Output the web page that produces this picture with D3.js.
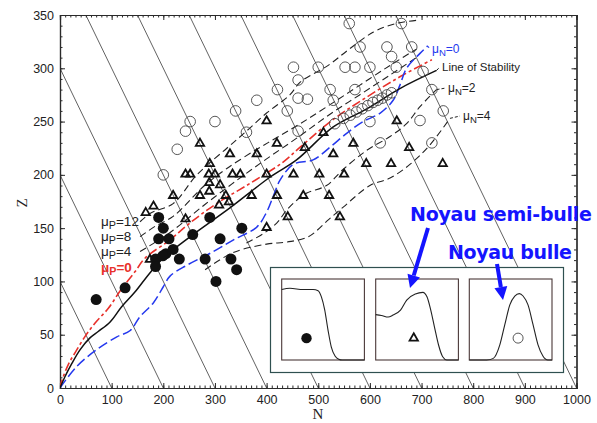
<!DOCTYPE html>
<html><head><meta charset="utf-8">
<script src="https://cdn.jsdelivr.net/npm/d3@7"></script>
<style>body{margin:0;background:#fff}svg{display:block}</style>
</head><body>
<svg id="c" width="597" height="423"></svg>
<script>
// ---------- DATA ----------
const xTicks = [0,100,200,300,400,500,600,700,800,900,1000];
const yTicks = [0,50,100,150,200,250,300,350];
const isobars = [100,200,300,400,500,600,700,800,900,1000]; // lines of constant A = N+Z
const stability = [[0,0],[10,11],[23,23],[39,36],[58,47],[74,53],[97,62],[119,76],[145,90],[174,108],[200,122],[252,142],[329,169],[407,198],[458,214],[529,245],[594,262],[658,281],[729,298]];
const muP0 = [[0,0],[3,6],[16,22],[29,33],[48,48],[68,61],[94,75],[119,93],[145,109],[165,122],[213,139],[252,155],[303,173],[368,192],[432,212],[465,226],[529,252],[594,273],[658,292],[720,308]];
const muN0 = [[0,0],[32,20],[71,36],[110,48],[136,54],[155,67],[181,80],[200,95],[213,105],[245,115],[297,128],[336,139],[381,151],[400,165],[413,180],[426,195],[452,210],[490,214],[523,226],[555,239],[587,250],[620,258],[645,270],[658,284],[671,300],[697,314],[712,321]];
const muP4 = [[155,128],[185,137],[219,148],[280,172],[340,194],[400,215],[460,235],[520,256],[580,275],[640,294],[690,310]];
const muP8 = [[155,142],[185,152],[219,161],[280,190],[323,206],[381,224],[420,235],[465,248],[520,265],[580,284],[640,303],[690,318]];
const muP12 = [[155,156],[175,164],[219,173],[265,200],[323,225],[361,241],[400,258],[445,275],[465,287],[520,303],[560,318],[607,334],[650,342],[690,345]];
const muN2 = [[361,136],[394,145],[420,155],[439,167],[458,176],[478,183],[516,190],[548,205],[594,223],[639,236],[671,248],[697,264],[729,280]];
const muN4 = [[281,111],[335,127],[400,135],[440,137],[481,142],[520,158],[549,170],[600,190],[639,197],[678,210],[716,228],[755,253]];
const bubbleFull = [[70,83],[126,94],[191,160],[200,150],[191,140],[211,140],[185,121],[185,114],[205,126],[219,130],[231,121],[257,144],[290,160],[310,140],[281,121],[302,100],[331,121],[342,111],[352,150],[199,124]];
const semiBubble = [[166,165],[181,171],[174,121],[219,181],[243,201],[252,201],[243,159],[271,181],[271,230],[289,193],[289,185],[290,211],[288,201],[300,201],[308,172],[310,191],[321,181],[327,175],[329,220],[334,201],[349,201],[371,181],[381,220],[400,151],[400,201],[400,251],[420,181],[420,230],[441,161],[452,201],[471,181],[474,226],[502,201],[510,240],[521,181],[529,220],[542,161],[550,201],[568,230],[593,211],[641,211],[652,251],[676,226],[741,211]];
const bubble = [[200,200],[227,224],[243,241],[252,250],[300,250],[340,260],[361,240],[381,270],[421,280],[440,260],[452,301],[461,289],[461,272],[479,271],[461,241],[500,301],[523,280],[529,270],[532,248],[549,253],[552,301],[571,301],[571,280],[581,320],[560,342],[600,301],[600,250],[620,230],[633,320],[642,311],[651,301],[661,342],[681,320],[703,297],[720,280],[742,260],[720,230],[697,251],[562,256],[574,259],[585,262],[596,265],[606,268],[615,270],[624,272],[633,275],[642,277]];
// inset density profiles (radius fraction, density fraction)
const profFull = [[0,0.87],[0.1,0.885],[0.26,0.87],[0.38,0.87],[0.44,0.856],[0.48,0.78],[0.52,0.62],[0.56,0.37],[0.6,0.16],[0.645,0.05],[0.69,0.01],[0.73,0],[1,0]];
const profSemi = [[0,0.56],[0.07,0.55],[0.15,0.53],[0.21,0.555],[0.3,0.615],[0.375,0.74],[0.48,0.815],[0.57,0.835],[0.62,0.78],[0.66,0.64],[0.71,0.41],[0.76,0.185],[0.81,0.04],[0.86,0],[1,0]];
const profBubble = [[0,0],[0.21,0],[0.29,0.02],[0.37,0.19],[0.43,0.44],[0.49,0.68],[0.55,0.79],[0.605,0.82],[0.65,0.79],[0.71,0.68],[0.77,0.44],[0.83,0.19],[0.89,0.05],[0.95,0],[1,0]];

// ---------- DRAW ----------
const svg = d3.select("#c");
const L=60, R=576.5, T=15, B=388;
const x = d3.scaleLinear().domain([0,1000]).range([L,R]);
const y = d3.scaleLinear().domain([0,350]).range([B,T]);
const ink = "#2a2a2a";
const font = "'Liberation Sans', Arial, sans-serif";

const defs = svg.append("defs");
defs.append("clipPath").attr("id","plot").append("rect").attr("x",L).attr("y",T).attr("width",R-L).attr("height",B-T);

// isobar lines
const gl = svg.append("g").attr("clip-path","url(#plot)");
isobars.forEach(A=>{
  const n0 = Math.max(0,A-350), z0 = A-n0;
  const n1 = Math.min(A,1000), z1 = A-n1;
  gl.append("line").attr("x1",x(n0)).attr("y1",y(z0)).attr("x2",x(n1)).attr("y2",y(z1))
    .attr("stroke","#3a3a3a").attr("stroke-width",0.8);
});

// axes with inward ticks
function axisG(axis, tr){ return svg.append("g").attr("transform",tr).call(axis); }
const minorX = d3.range(0,1001,10), minorY = d3.range(0,351,10);
const styleAxis = g=>{ g.select(".domain").attr("stroke",ink).attr("stroke-width",1.2); g.selectAll(".tick line").attr("stroke",ink); g.selectAll("text").attr("font-family",font).attr("font-size",12.5).attr("fill","#222"); };
axisG(d3.axisBottom(x).tickValues(minorX).tickSize(-2.5).tickFormat(""), `translate(0,${B})`).call(styleAxis);
axisG(d3.axisBottom(x).tickValues(xTicks).tickSize(-5).tickPadding(7).tickFormat(d3.format("d")), `translate(0,${B})`).call(styleAxis);
axisG(d3.axisTop(x).tickValues(minorX).tickSize(-2.5).tickFormat(""), `translate(0,${T})`).call(styleAxis);
axisG(d3.axisTop(x).tickValues(xTicks).tickSize(-5).tickFormat(""), `translate(0,${T})`).call(styleAxis);
axisG(d3.axisLeft(y).tickValues(minorY).tickSize(-2.5).tickFormat(""), `translate(${L},0)`).call(styleAxis);
axisG(d3.axisLeft(y).tickValues(yTicks).tickSize(-5).tickPadding(6).tickFormat(d3.format("d")), `translate(${L},0)`).call(styleAxis);
axisG(d3.axisRight(y).tickValues(minorY).tickSize(-2.5).tickFormat(""), `translate(${R},0)`).call(styleAxis);
axisG(d3.axisRight(y).tickValues(yTicks).tickSize(-5).tickFormat(""), `translate(${R},0)`).call(styleAxis);

// axis titles
svg.append("text").attr("x",318).attr("y",419).attr("text-anchor","middle").attr("font-family","'Liberation Serif',serif").attr("font-size",15).attr("fill","#222").text("N");
svg.append("text").attr("transform","translate(27,203) rotate(-90)").attr("text-anchor","middle").attr("font-family","'Liberation Serif',serif").attr("font-size",15).attr("fill","#222").text("Z");

// curves
const line = d3.line().x(d=>x(d[0])).y(d=>y(d[1])).curve(d3.curveCatmullRom.alpha(0.5));
const gc = svg.append("g").attr("clip-path","url(#plot)").attr("fill","none");
[muP4,muP8,muP12,muN2,muN4].forEach(c=>gc.append("path").attr("d",line(c)).attr("stroke","#222").attr("stroke-width",1.1).attr("stroke-dasharray","7,4"));
gc.append("path").attr("d",line(muP0)).attr("stroke","#e8302a").attr("stroke-width",1.6).attr("stroke-dasharray","9,3,3,3");
gc.append("path").attr("d",line(muN0)).attr("stroke","#2438ee").attr("stroke-width",1.5).attr("stroke-dasharray","10,4");
gc.append("path").attr("d",line(stability)).attr("stroke","#111").attr("stroke-width",1.5);

// markers
const gm = svg.append("g");
gm.selectAll(".oc").data(bubble).join("circle").attr("cx",d=>x(d[0])).attr("cy",d=>y(d[1])).attr("r",5.3)
  .attr("fill","none").attr("stroke","#444").attr("stroke-width",0.9);
const tri = d3.symbol().type(d3.symbolTriangle).size(30);
gm.selectAll(".tr").data(semiBubble).join("path").attr("d",tri).attr("transform",d=>`translate(${x(d[0])},${y(d[1])+0.5})`)
  .attr("fill","none").attr("stroke","#111").attr("stroke-width",1.8);
gm.selectAll(".fc").data(bubbleFull).join("circle").attr("cx",d=>x(d[0])).attr("cy",d=>y(d[1])).attr("r",5.5).attr("fill","#111");

// curve labels
function sublabel(xx,yy,sub,rest,color,size){
  const t = svg.append("text").attr("x",xx).attr("y",yy).attr("font-family",font).attr("font-size",size).attr("fill",color);
  t.append("tspan").text("\u03bc");
  t.append("tspan").attr("font-size",size*0.8).attr("dy",3).text(sub);
  t.append("tspan").attr("dy",-3).text(rest);
  return t;
}
sublabel(101,226,"P","=12","#222",13.5);
sublabel(101,241,"P","=8","#222",13.5);
sublabel(101,256,"P","=4","#222",13.5);
sublabel(101,272,"P","=0","#e8302a",13.5).attr("font-weight","bold");
sublabel(432,53,"N","=0","#2438ee",12);
svg.append("text").attr("x",442).attr("y",71).attr("font-family",font).attr("font-size",11.5).attr("fill","#222").text("Line of Stability");
sublabel(448,92,"N","=2","#222",12);
sublabel(463,120,"N","=4","#222",12);
// leader ticks
const lead = (a,b,c,d,col)=>svg.append("line").attr("x1",a).attr("y1",b).attr("x2",c).attr("y2",d).attr("stroke",col).attr("stroke-width",1).attr("stroke-dasharray","3,2");
lead(x(712),y(321),429,48,"#2438ee");
lead(x(729),y(298),440,67,"#111");
lead(x(729),y(280),446,88,"#222");
lead(x(755),y(253),460,116,"#222");

// inset
const gi = svg.append("g");
gi.append("rect").attr("x",270.5).attr("y",267.5).attr("width",293).attr("height",105).attr("fill","#fff").attr("stroke","#2f5050").attr("stroke-width",1.2);
const boxes = [{x0:281.7,p:profFull,m:"fc",mx:0.3},{x0:375.7,p:profSemi,m:"tr",mx:0.46},{x0:469.3,p:profBubble,m:"oc",mx:0.59}];
boxes.forEach(b=>{
  const bx = d3.scaleLinear().domain([0,1]).range([b.x0,b.x0+82.7]);
  const by = d3.scaleLinear().domain([0,1]).range([360,279]);
  gi.append("rect").attr("x",b.x0).attr("y",279).attr("width",82.7).attr("height",81).attr("fill","#fff").attr("stroke","#4a3838").attr("stroke-width",1.1);
  gi.append("path").attr("d",d3.line().x(d=>bx(d[0])).y(d=>by(d[1])).curve(d3.curveMonotoneX)(b.p)).attr("fill","none").attr("stroke","#222").attr("stroke-width",1.1);
  const mx=bx(b.mx), my=by(0.27);
  if(b.m==="fc") gi.append("circle").attr("cx",mx).attr("cy",my).attr("r",5.2).attr("fill","#111");
  if(b.m==="oc") gi.append("circle").attr("cx",mx).attr("cy",my).attr("r",5).attr("fill","none").attr("stroke","#444").attr("stroke-width",0.9);
  if(b.m==="tr") gi.append("path").attr("d",tri).attr("transform",`translate(${mx},${my})`).attr("fill","none").attr("stroke","#111").attr("stroke-width",1.8);
});

// blue annotations
const blue = "#1414ff";
svg.append("text").attr("x",501).attr("y",221).attr("text-anchor","middle").attr("font-family","'DejaVu Sans',sans-serif").attr("font-weight","bold").attr("font-size",19).attr("fill",blue).attr("textLength",182).text("Noyau semi-bulle");
svg.append("text").attr("x",510).attr("y",259).attr("text-anchor","middle").attr("font-family","'DejaVu Sans',sans-serif").attr("font-weight","bold").attr("font-size",19).attr("fill",blue).attr("textLength",124).text("Noyau bulle");
function arrow(x1,y1,x2,y2){
  const a = Math.atan2(y2-y1,x2-x1), hl=13, hw=6.5;
  const bx=x2-hl*Math.cos(a), by=y2-hl*Math.sin(a);
  svg.append("line").attr("x1",x1).attr("y1",y1).attr("x2",bx).attr("y2",by).attr("stroke",blue).attr("stroke-width",4);
  svg.append("polygon").attr("points",[[x2,y2],[bx+hw*Math.sin(a),by-hw*Math.cos(a)],[bx-hw*Math.sin(a),by+hw*Math.cos(a)]].map(p=>p.join(",")).join(" ")).attr("fill",blue);
}
arrow(428,228,410,288);
arrow(497,264,503,300);
</script>
</body></html>
